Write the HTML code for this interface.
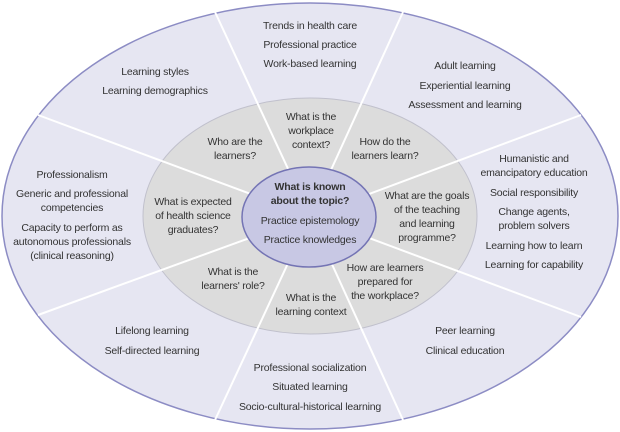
<!DOCTYPE html>
<html><head><meta charset="utf-8"><style>
html,body{margin:0;padding:0;background:#fff;}
svg{display:block;}
text{font-family:"Liberation Sans",sans-serif;font-size:10.5px;fill:#333;text-anchor:middle;dominant-baseline:middle;letter-spacing:-0.2px;}
.b{font-weight:bold;}
</style></head><body>
<svg width="620" height="432" viewBox="0 0 620 432" xmlns="http://www.w3.org/2000/svg">
<ellipse cx="310" cy="216" rx="308" ry="213" fill="#e6e6f2" stroke="#8c8cc4" stroke-width="1.5"/>
<ellipse cx="310" cy="216" rx="167" ry="118" fill="#dcdcdc" stroke="#c0c0cc" stroke-width="1"/>
<g stroke="#fff" stroke-width="2">
<line x1="310" y1="216" x2="215" y2="12"/>
<line x1="310" y1="216" x2="403" y2="12"/>
<line x1="310" y1="216" x2="581" y2="115"/>
<line x1="310" y1="216" x2="581" y2="317"/>
<line x1="310" y1="216" x2="403" y2="420"/>
<line x1="310" y1="216" x2="215" y2="420"/>
<line x1="310" y1="216" x2="38" y2="315"/>
<line x1="310" y1="216" x2="38" y2="115"/>
</g>
<ellipse cx="309" cy="217" rx="67" ry="50" fill="#c8c8e4" stroke="#7474b4" stroke-width="1.5"/>

<text x="310" y="26">Trends in health care</text>
<text x="310" y="45">Professional practice</text>
<text x="310" y="64">Work-based learning</text>
<text x="155" y="72">Learning styles</text>
<text x="155" y="91">Learning demographics</text>
<text x="465" y="66">Adult learning</text>
<text x="465" y="86">Experiential learning</text>
<text x="465" y="105">Assessment and learning</text>
<text x="72" y="175">Professionalism</text>
<text x="72" y="194">Generic and professional</text>
<text x="72" y="208">competencies</text>
<text x="72" y="228">Capacity to perform as</text>
<text x="72" y="242">autonomous professionals</text>
<text x="72" y="256">(clinical reasoning)</text>
<text x="534" y="159">Humanistic and</text>
<text x="534" y="173">emancipatory education</text>
<text x="534" y="193">Social responsibility</text>
<text x="534" y="212">Change agents,</text>
<text x="534" y="226">problem solvers</text>
<text x="534" y="246">Learning how to learn</text>
<text x="534" y="265">Learning for capability</text>
<text x="152" y="331">Lifelong learning</text>
<text x="152" y="351">Self-directed learning</text>
<text x="310" y="368">Professional socialization</text>
<text x="310" y="387">Situated learning</text>
<text x="310" y="407">Socio-cultural-historical learning</text>
<text x="465" y="331">Peer learning</text>
<text x="465" y="351">Clinical education</text>

<text x="311" y="117">What is the</text>
<text x="311" y="131">workplace</text>
<text x="311" y="145">context?</text>
<text x="235" y="142">Who are the</text>
<text x="235" y="156">learners?</text>
<text x="385" y="142">How do the</text>
<text x="385" y="156">learners learn?</text>
<text x="193" y="202">What is expected</text>
<text x="193" y="216">of health science</text>
<text x="193" y="230">graduates?</text>
<text x="427" y="196">What are the goals</text>
<text x="427" y="210">of the teaching</text>
<text x="427" y="224">and learning</text>
<text x="427" y="238">programme?</text>
<text x="233" y="272">What is the</text>
<text x="233" y="286">learners' role?</text>
<text x="311" y="298">What is the</text>
<text x="311" y="312">learning context</text>
<text x="385" y="268">How are learners</text>
<text x="385" y="282">prepared for</text>
<text x="385" y="296">the workplace?</text>

<text class="b" x="310" y="187">What is known</text>
<text class="b" x="310" y="201">about the topic?</text>
<text x="310" y="221">Practice epistemology</text>
<text x="310" y="240">Practice knowledges</text>
</svg>
</body></html>
